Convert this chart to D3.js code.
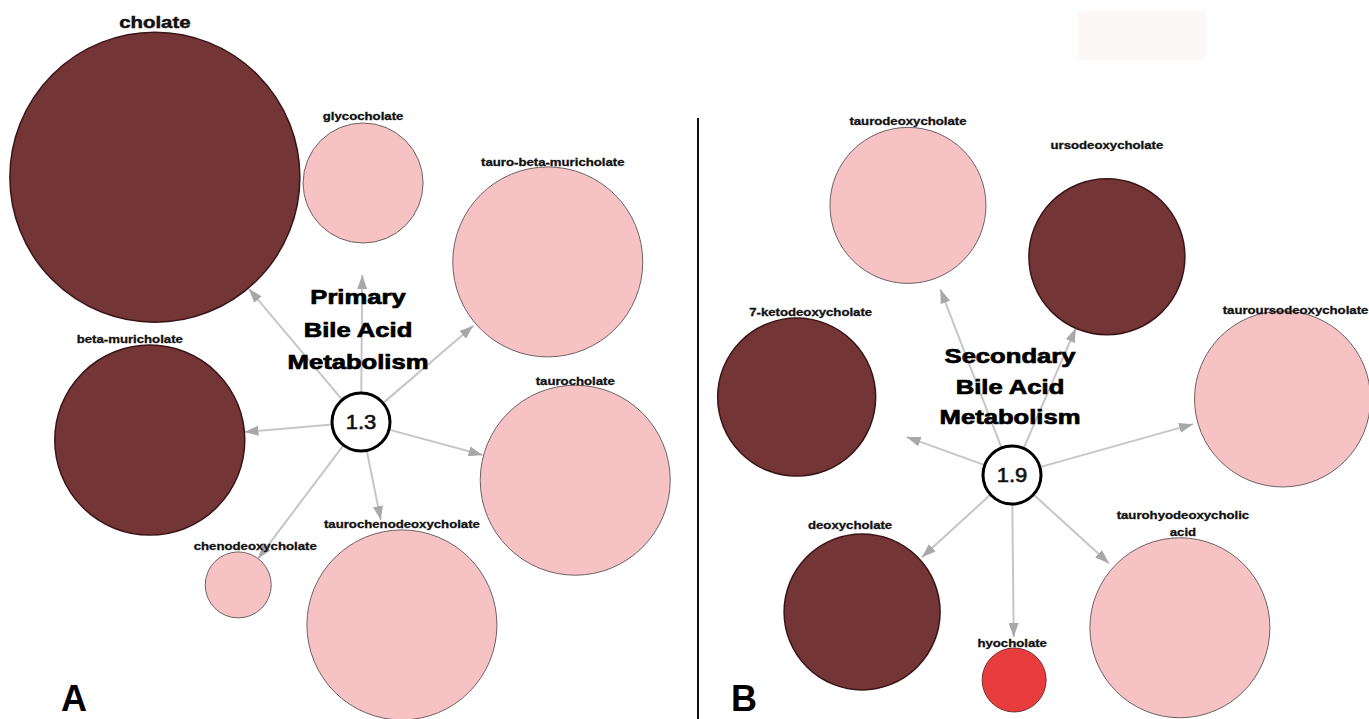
<!DOCTYPE html>
<html>
<head>
<meta charset="utf-8">
<script src="https://cdn.jsdelivr.net/npm/d3@7"></script>
<style>
  html, body { margin: 0; padding: 0; background: #fff; }
  svg { display: block; font-family: "Liberation Sans", Arial, sans-serif; }
</style>
</head>
<body>
<svg id="chart" width="1369" height="719"></svg>
<script>
// Panel A - primary bile acids
const namesA = ["cholate", "glycocholate", "tauro-beta-muricholate", "beta-muricholate",
  "taurocholate", "taurochenodeoxycholate", "chenodeoxycholate"];
const sizeA = [14.5, 6.0, 9.5, 9.5, 9.5, 9.5, 3.3];
const groupA = ["high", "low", "low", "high", "low", "low", "low"];
const angleA = [-130.1, -89.5, -40.6, 175.1, 15.2, 78.6, 127.0];
const distA = [320, 239, 246, 212, 222, 207, 204];
const hubValueA = "1.3";

// Panel B - secondary bile acids
const namesB = ["taurodeoxycholate", "ursodeoxycholate", "tauroursodeoxycholate", "7-ketodeoxycholate",
  "deoxycholate", "hyocholate", "taurohyodeoxycholic acid"];
const sizeB = [7.8, 7.8, 8.8, 7.9, 7.8, 3.2, 9.0];
const groupB = ["low", "high", "low", "high", "high", "sig", "low"];
const angleB = [-111.1, -66.5, -15.7, -160.1, 137.6, 89.4, 42.3];
const distB = [289, 238, 281, 229, 203, 205, 227];
const hubValueB = "1.9";

const titleA = ["Primary", "Bile Acid", "Metabolism"];
const titleB = ["Secondary", "Bile Acid", "Metabolism"];

// layout tweaks (label nudges, arrow gaps) from the original figure
const labelDxA = [0, 0, 5, -20, 0, 0, 17], labelGapA = [4, 3, 1, 2, 0, 2, 2];
const labelDxB = [0, 0, 13, 14, -12, -2, 3], labelGapB = [2, 30, -3, 2, 5, 1, 2];
const arrowGapA = [1, 32, 3, 0, 1, 12, 0];
const arrowGapB = [12, 0, 5, 38, 3, 11, 6];

const svg = d3.select("#chart");

const rScale = d3.scaleLinear().domain([0, 1]).range([0, 10]);
const dScale = d3.scaleLinear().domain([0, 1]).range([0, 1]);
const fill = d3.scaleOrdinal().domain(["high", "low", "sig"]).range(["#733535", "#f7c2c4", "#e83c3f"]);
const stroke = d3.scaleOrdinal().domain(["high", "low", "sig"]).range(["#3b1515", "#6e6262", "#7a3030"]);

const hubR = 29,
  edgeColor = "#c6c6c6",
  headColor = "#a8a8a8",
  textScale = 1.2;

svg.append("defs").append("marker")
  .attr("id", "head")
  .attr("viewBox", "0 0 14 10")
  .attr("refX", 14)
  .attr("refY", 5)
  .attr("markerWidth", 14)
  .attr("markerHeight", 10)
  .attr("markerUnits", "userSpaceOnUse")
  .attr("orient", "auto")
  .append("path")
  .attr("d", "M0,0 L14,5 L0,10 Z")
  .attr("fill", headColor);

// faint box top right
svg.append("rect")
  .attr("x", 1078).attr("y", 11).attr("width", 128).attr("height", 49)
  .attr("fill", "#fcf8f8");

// divider
svg.append("line")
  .attr("x1", 698).attr("y1", 118).attr("x2", 698).attr("y2", 719)
  .attr("stroke", "#111").attr("stroke-width", 2);

function drawPanel(opt) {
  const nodes = opt.names.map((name, i) => {
    const a = opt.angle[i] * Math.PI / 180;
    const d = dScale(opt.dist[i]);
    return {
      name: name,
      r: rScale(opt.size[i]),
      group: opt.group[i],
      x: opt.hub[0] + d * Math.cos(a),
      y: opt.hub[1] + d * Math.sin(a),
      lDx: opt.labelDx[i],
      lGap: opt.labelGap[i],
      aGap: opt.arrowGap[i]
    };
  });

  const g = svg.append("g");

  // edges first so circles sit on top
  g.selectAll("line.edge")
    .data(nodes)
    .enter()
    .append("line")
    .attr("class", "edge")
    .each(function (d) {
      const dx = d.x - opt.hub[0], dy = d.y - opt.hub[1];
      const len = Math.sqrt(dx * dx + dy * dy);
      const ux = dx / len, uy = dy / len;
      const endDist = len - d.r - d.aGap;
      d3.select(this)
        .attr("x1", opt.hub[0] + ux * hubR)
        .attr("y1", opt.hub[1] + uy * hubR)
        .attr("x2", opt.hub[0] + ux * endDist)
        .attr("y2", opt.hub[1] + uy * endDist);
    })
    .attr("stroke", edgeColor)
    .attr("stroke-width", 2)
    .attr("marker-end", "url(#head)");

  g.selectAll("circle.node")
    .data(nodes)
    .enter()
    .append("circle")
    .attr("class", "node")
    .attr("cx", d => d.x)
    .attr("cy", d => d.y)
    .attr("r", d => d.r)
    .attr("fill", d => fill(d.group))
    .attr("stroke", d => stroke(d.group))
    .attr("stroke-width", d => d.group === "high" ? 1.5 : 1);

  // labels, long names wrap at a space
  nodes.forEach(d => {
    const big = d.name === "cholate";
    const words = d.name.indexOf(" ") > 0 && d.name.length > 20 ? d.name.split(" ") : [d.name];
    const baseY = d.y - d.r - d.lGap;
    words.forEach((w, k) => {
      const y = baseY - (words.length - 1 - k) * 17;
      g.append("text")
        .attr("transform", "translate(" + (d.x + d.lDx) + "," + y + ") scale(" + textScale + ",1)")
        .attr("text-anchor", "middle")
        .attr("font-size", big ? 17 : 11)
        .attr("font-weight", "bold")
        .attr("fill", "#111")
        .attr("stroke", "#111")
        .attr("stroke-width", big ? 0.5 : 0.3)
        .text(w);
    });
  });

  // hub
  g.append("circle")
    .attr("cx", opt.hub[0]).attr("cy", opt.hub[1]).attr("r", hubR)
    .attr("fill", "#fff").attr("stroke", "#000").attr("stroke-width", 3);

  g.append("text")
    .attr("transform", "translate(" + opt.hub[0] + "," + (opt.hub[1] + 7) + ") scale(1.1,1)")
    .attr("text-anchor", "middle")
    .attr("font-size", 20)
    .attr("fill", "#111")
    .attr("stroke", "#111")
    .attr("stroke-width", 0.6)
    .text(opt.hubValue);

  // pathway title
  opt.title.forEach((t, k) => {
    g.append("text")
      .attr("transform", "translate(" + opt.titleX + "," + (opt.titleY + k * opt.titleStep) + ") scale(1.28,1)")
      .attr("text-anchor", "middle")
      .attr("font-size", 20)
      .attr("font-weight", "bold")
      .attr("fill", "#000")
      .attr("stroke", "#000")
      .attr("stroke-width", 0.7)
      .text(t);
  });

  // panel letter sits right on the bottom edge like the figure
  svg.append("text")
    .attr("x", opt.letterX).attr("y", 711)
    .attr("text-anchor", "middle")
    .attr("font-size", 36)
    .attr("font-weight", "bold")
    .attr("fill", "#000")
    .text(opt.letter);
}

drawPanel({
  names: namesA, size: sizeA, group: groupA, angle: angleA, dist: distA,
  labelDx: labelDxA, labelGap: labelGapA, arrowGap: arrowGapA,
  hub: [361, 422], hubValue: hubValueA,
  title: titleA, titleX: 358, titleY: 304, titleStep: 32.5,
  letter: "A", letterX: 74
});

drawPanel({
  names: namesB, size: sizeB, group: groupB, angle: angleB, dist: distB,
  labelDx: labelDxB, labelGap: labelGapB, arrowGap: arrowGapB,
  hub: [1012, 475], hubValue: hubValueB,
  title: titleB, titleX: 1010, titleY: 363, titleStep: 30.5,
  letter: "B", letterX: 744
});
</script>
</body>
</html>
